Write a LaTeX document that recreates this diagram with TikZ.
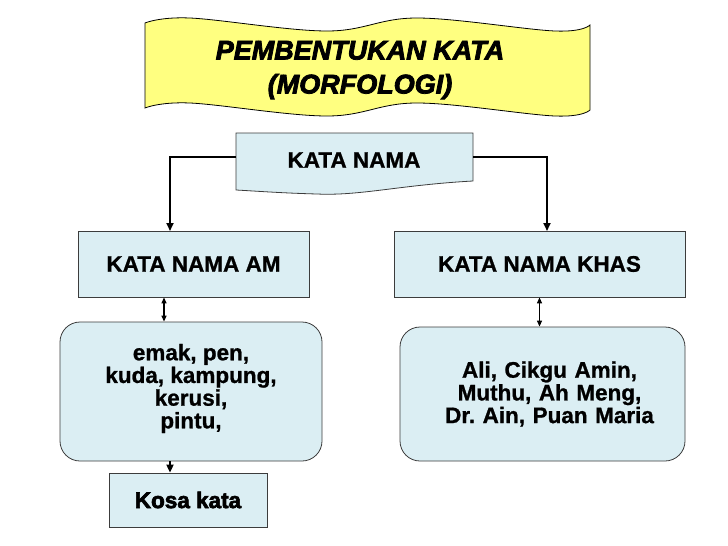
\documentclass[tikz,border=0pt]{standalone}
\usepackage{fontspec}
\setmainfont{Liberation Sans}
\newfontfamily\tebal[FakeBold=3]{Liberation Sans}
\newfontfamily\sedang[FakeBold=1]{Liberation Sans}
\usetikzlibrary{arrows.meta}
\frenchspacing

\definecolor{kuning}{RGB}{255,255,128}
\definecolor{biru}{RGB}{219,238,243}
\definecolor{garis}{RGB}{60,60,60}

\begin{document}
\begin{tikzpicture}[x=1pt, y=-1pt,
    kotak/.style={draw=garis, fill=biru, line width=0.8pt, inner sep=0pt, align=center,
      font=\sedang\bfseries\fontsize{22.5}{22.7}\selectfont},
    bulat/.style={kotak, rounded corners=20pt},
    panah/.style={-{Triangle[length=8pt,width=7pt]}, line width=1.8pt},
    duapanah/.style={{Triangle[length=6pt,width=5pt]}-{Triangle[length=6pt,width=5pt]}, line width=1.2pt}]

  \useasboundingbox (0,0) rectangle (728,546);

  %% --- panji kuning: judul ---
  \draw[fill=kuning, draw=black, line width=0.8pt]
    plot[smooth, tension=0.6] coordinates {(145,23) (190,18) (327,31) (417,18) (555,31) (590,25)}
    -- plot[smooth, tension=0.6] coordinates {(590,110) (555,116) (417,103) (327,116) (190,103) (145,108)}
    -- cycle;
  \node[font=\tebal\bfseries\itshape\fontsize{27}{34}\selectfont, align=center] (judul) at (360,70)
    {PEMBENTUKAN KATA\\(MORFOLOGI)};

  %% --- kata nama (bentuk dokumen) ---
  \draw[fill=biru, draw=garis, line width=0.8pt]
    (236,133) -- (473,133) -- (473,181)
    .. controls (400,185) and (360,196) .. (317,194)
    .. controls (280,193) and (255,191) .. (236,190) -- cycle;
  \node[font=\sedang\bfseries\fontsize{22.5}{23}\selectfont] (kn) at (354,160) {KATA NAMA};
  \coordinate (knL) at (236,157);
  \coordinate (knR) at (473,157);

  %% --- cabang ---
  \node[kotak, minimum width=231pt, minimum height=66pt] (am) at (193.5,264) {KATA NAMA AM};
  \node[kotak, minimum width=291pt, minimum height=66pt] (khas) at (539.5,264) {KATA NAMA KHAS};

  \node[bulat, minimum width=262pt, minimum height=139pt] (contohAm) at (191,391.5)
    {emak, pen,\\kuda, kampung,\\kerusi,\\pintu,\\[-12pt]\mbox{}};
  \node[bulat, minimum width=285pt, minimum height=134pt, text width=270pt] (contohKhas) at (542.5,394)
    {\hspace*{14pt}Ali, Cikgu Amin,\\\hspace*{14pt}Muthu, Ah Meng,\\\hspace*{14pt}Dr. Ain, Puan Maria};

  \node[kotak, minimum width=158pt, minimum height=54pt, font=\tebal\bfseries\fontsize{22.5}{24}\selectfont]
    (kosa) at (188,500) {Kosa kata};

  %% --- penghubung ---
  \coordinate (amIn) at (170,231);
  \coordinate (khasIn) at (547,231);
  \coordinate (amOut) at ([xshift=-29.5pt]am.south);
  \coordinate (kosaIn) at ([xshift=-18pt]kosa.north);

  \draw[panah] (knL) -| (amIn);
  \draw[panah] (knR) -| (khasIn);
  \draw[duapanah] (amOut) -- (amOut |- contohAm.north);
  \draw[duapanah] (khas.south) -- (khas.south |- contohKhas.north);
  \draw[panah] (kosaIn |- contohAm.south) -- (kosaIn);

\end{tikzpicture}
\end{document}
